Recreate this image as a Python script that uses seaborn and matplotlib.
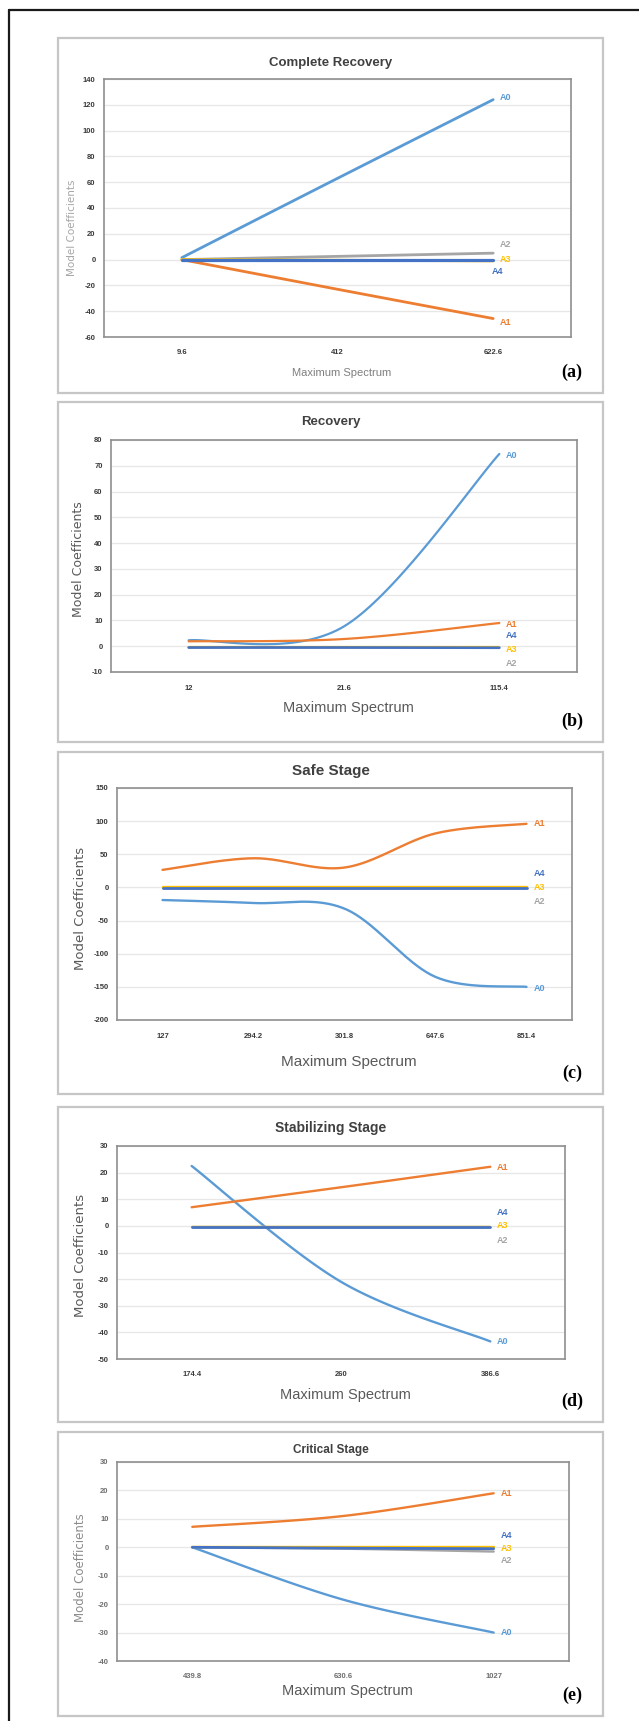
import numpy as np
import matplotlib
matplotlib.use("Agg")
import matplotlib.pyplot as plt
import seaborn as sns
from matplotlib.patches import Rectangle
from matplotlib.lines import Line2D
from matplotlib import font_manager as fm

# ---------------------------------------------------------------- data
series_names = ["A0", "A1", "A2", "A3", "A4"]
series_colors = ["#5B9BD5", "#ED7D31", "#A5A5A5", "#FFC000", "#4472C4"]

# (a) Complete Recovery
cr_spectrum = ["9.6", "412", "622.6"]
cr_A0 = [1.5, 63.0, 124.0]
cr_A1 = [0.0, -23.0, -45.7]
cr_A2 = [0.0, 2.5, 5.0]
cr_A3 = [0.0, -0.5, -1.0]
cr_A4 = [0.0, 0.0, 0.0]

# (b) Recovery
rc_spectrum = ["12", "21.6", "115.4"]
rc_A0 = [2.3, 7.7, 74.6]
rc_A1 = [1.9, 2.8, 9.0]
rc_A2 = [-0.5, -0.5, -0.6]
rc_A3 = [-0.4, -0.4, -0.4]
rc_A4 = [-0.5, -0.5, -0.6]

# (c) Safe Stage
ss_spectrum = ["127", "294.2", "301.8", "647.6", "851.4"]
ss_A0 = [-19.0, -23.5, -32.0, -135.0, -150.0]
ss_A1 = [26.5, 44.0, 30.0, 81.5, 96.0]
ss_A2 = [-1.5, -1.5, -1.5, -1.5, -1.5]
ss_A3 = [0.0, 0.0, 0.0, 0.0, 0.0]
ss_A4 = [-1.0, -1.0, -1.0, -1.0, -1.0]

# (d) Stabilizing Stage
st_spectrum = ["174.4", "260", "386.6"]
st_A0 = [22.5, -21.0, -43.4]
st_A1 = [7.0, 14.5, 22.2]
st_A2 = [-0.5, -0.5, -0.5]
st_A3 = [-0.3, -0.3, -0.3]
st_A4 = [-0.3, -0.3, -0.3]

# (e) Critical Stage
cs_spectrum = ["439.8", "630.6", "1027"]
cs_A0 = [0.0, -18.4, -30.0]
cs_A1 = [7.2, 11.0, 19.0]
cs_A2 = [0.0, -0.5, -1.5]
cs_A3 = [0.0, 0.0, 0.0]
cs_A4 = [0.0, -0.3, -0.5]

# ---------------------------------------------------------------- style
sns.set_theme(style="white")
avail = {f.name for f in fm.fontManager.ttflist}
NARROW = "Liberation Sans Narrow" if "Liberation Sans Narrow" in avail else "Liberation Sans"
plt.rcParams["font.family"] = [NARROW, "DejaVu Sans"]

W, H = 639, 1721
fig = plt.figure(figsize=(W / 100, H / 100), dpi=100)
fig.patch.set_facecolor("white")


def fx(x):
    return x / W


def fy(y):
    return 1 - y / H


def smooth(values, steps=40):
    """Excel-style smoothed line: cubic Bezier segments through each point."""
    y = np.asarray(values, float)
    n = len(y)
    xs, ys = [], []
    for i in range(n - 1):
        i0, i3 = max(i - 1, 0), min(i + 2, n - 1)
        c1 = y[i] + (y[i + 1] - y[i0]) / 6
        c2 = y[i + 1] - (y[i3] - y[i]) / 6
        cx1 = i + ((i + 1) - i0) / 6
        cx2 = (i + 1) - (i3 - i) / 6
        t = np.linspace(0, 1, steps, endpoint=(i == n - 2))

        def bz(a, b, c, d):
            return (1 - t) ** 3 * a + 3 * (1 - t) ** 2 * t * b + 3 * (1 - t) * t ** 2 * c + t ** 3 * d

        xs.append(bz(i, cx1, cx2, i + 1))
        ys.append(bz(y[i], c1, c2, y[i + 1]))
    return np.concatenate(xs), np.concatenate(ys)


panels = [
    dict(letter="(a)", title="Complete Recovery", box=(58, 38, 603, 393),
         area=(104, 79, 571, 337), cats=cr_spectrum,
         series=[cr_A0, cr_A1, cr_A2, cr_A3, cr_A4], yticks=range(-60, 141, 20),
         title_y=63, title_fs=9.5, xlab_y=373, xlab_fs=8, xlab_font=NARROW, xlab_col="#7f7f7f",
         ylab_x=72, ylab_y=228, ylab_fs=7.5, ylab_col="#a6a6a6", tick_col="#3a3a3a",
         lab_y=[126, -49, 12, 0, -9], lab_dx=[5, 5, 5, 5, -1], lw=2.0),
    dict(letter="(b)", title="Recovery", box=(58, 402, 603, 742),
         area=(111, 440, 577, 672), cats=rc_spectrum,
         series=[rc_A0, rc_A1, rc_A2, rc_A3, rc_A4], yticks=range(-10, 81, 10),
         title_y=422, title_fs=9.5, xlab_y=708, xlab_fs=10.5, xlab_font=NARROW, xlab_col="#595959",
         ylab_x=78, ylab_y=559, ylab_fs=9, ylab_col="#595959", tick_col="#3a3a3a",
         lab_y=[74, 8.6, -6.7, -1.3, 4], lab_dx=[5] * 5, lw=1.6),
    dict(letter="(c)", title="Safe Stage", box=(58, 752, 603, 1094),
         area=(117, 788, 572, 1020), cats=ss_spectrum,
         series=[ss_A0, ss_A1, ss_A2, ss_A3, ss_A4], yticks=range(-200, 151, 50),
         title_y=771, title_fs=11, xlab_y=1062, xlab_fs=11, xlab_font=NARROW, xlab_col="#595959",
         ylab_x=80, ylab_y=908, ylab_fs=9.5, ylab_col="#595959", tick_col="#3a3a3a",
         lab_y=[-152, 96, -21.5, 0, 21], lab_dx=[5] * 5, lw=1.7),
    dict(letter="(d)", title="Stabilizing Stage", box=(58, 1107, 603, 1422),
         area=(117, 1146, 565, 1359), cats=st_spectrum,
         series=[st_A0, st_A1, st_A2, st_A3, st_A4], yticks=range(-50, 31, 10),
         title_y=1128, title_fs=10, xlab_y=1395, xlab_fs=10.5, xlab_font="Liberation Sans", xlab_col="#595959",
         ylab_x=80, ylab_y=1255, ylab_fs=9.5, ylab_col="#595959", tick_col="#3a3a3a",
         lab_y=[-43.4, 22, -5.5, 0, 5], lab_dx=[5] * 5, lw=1.7),
    dict(letter="(e)", title="Critical Stage", box=(58, 1432, 603, 1716),
         area=(117, 1462, 569, 1661), cats=cs_spectrum,
         series=[cs_A0, cs_A1, cs_A2, cs_A3, cs_A4], yticks=range(-40, 31, 10),
         title_y=1450, title_fs=8.5, xlab_y=1691, xlab_fs=10.5, xlab_font="Liberation Sans", xlab_col="#595959",
         ylab_x=80, ylab_y=1568, ylab_fs=8.5, ylab_col="#8c8c8c", tick_col="#6e6e6e",
         lab_y=[-30, 19, -4.7, -0.3, 4], lab_dx=[5] * 5, lw=1.7),
]

# outer frame: left and top rules
fig.add_artist(Line2D([fx(9), fx(9)], [fy(10), 0], color="#1a1a1a", lw=1.6))
fig.add_artist(Line2D([fx(9), 1], [fy(10), fy(10)], color="#1a1a1a", lw=1.6))

for p in panels:
    bx0, by0, bx1, by1 = p["box"]
    fig.add_artist(Rectangle((fx(bx0), fy(by1)), fx(bx1 - bx0), (by1 - by0) / H,
                             fill=False, edgecolor="#c6c6c6", lw=1.6))

    x0, y0, x1, y1 = p["area"]
    ax = fig.add_axes([fx(x0), fy(y1), fx(x1 - x0), (y1 - y0) / H])
    n = len(p["cats"])
    for name, vals, col in zip(series_names, p["series"], series_colors):
        sx, sy = smooth(vals)
        lw = p["lw"] + (0.3 if name == "A4" else 0)
        sns.lineplot(x=sx, y=sy, ax=ax, color=col, lw=lw, sort=False,
                     estimator=None, legend=False)

    yt = list(p["yticks"])
    ax.set_ylim(yt[0], yt[-1])
    ax.set_xlim(-0.5, n - 0.5)
    ax.set_yticks(yt)
    ax.set_yticklabels([str(v) for v in yt])
    ax.set_xticks(range(n))
    ax.set_xticklabels(p["cats"])
    ax.tick_params(axis="both", length=0, labelsize=5.5, labelcolor=p["tick_col"])
    ax.tick_params(axis="y", pad=6)
    ax.tick_params(axis="x", pad=9)
    for lbl in ax.get_xticklabels() + ax.get_yticklabels():
        lbl.set_fontweight("bold")
    ax.yaxis.grid(True, color="#e7e7e7", lw=0.9)
    ax.xaxis.grid(False)
    ax.set_axisbelow(True)
    for s in ax.spines.values():
        s.set_visible(True)
        s.set_color("#8f8f8f")
        s.set_linewidth(1.2)
    ax.set_xlabel("")
    ax.set_ylabel("")

    # series labels to the right of the last point
    for name, col, ly, dx in zip(series_names, series_colors, p["lab_y"], p["lab_dx"]):
        ax.annotate(name, xy=(n - 1, ly), xytext=(dx, 0), textcoords="offset points",
                    ha="left", va="center", fontsize=6.5, fontweight="bold", color=col,
                    annotation_clip=False)

    cx = (bx0 + bx1) / 2
    fig.text(fx(cx), fy(p["title_y"]), p["title"], ha="center", va="center",
             fontsize=p["title_fs"], fontweight="bold", color="#404040")
    fig.text(fx((x0 + x1) / 2 + 4), fy(p["xlab_y"]), "Maximum Spectrum", ha="center", va="center",
             fontsize=p["xlab_fs"], color=p["xlab_col"], family=[p["xlab_font"], "DejaVu Sans"])
    fig.text(fx(p["ylab_x"]), fy(p["ylab_y"]), "Model Coefficients", ha="center", va="center",
             rotation=90, fontsize=p["ylab_fs"], color=p["ylab_col"], family=["DejaVu Sans"])
    fig.text(fx(572), fy(by1 - 21), p["letter"], ha="center", va="center",
             fontsize=13, fontweight="bold", color="black", family=["Liberation Serif", "DejaVu Serif"])

fig.savefig("out.png", dpi=100, facecolor="white")
